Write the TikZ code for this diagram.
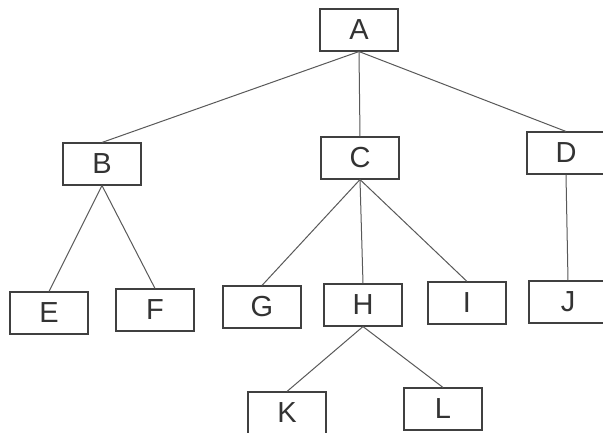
\documentclass[tikz,border=0pt]{standalone}
\usepackage{fontspec}
\setmainfont{Liberation Sans}
\begin{document}
\begin{tikzpicture}[x=1pt,y=-1pt,
  box/.style={draw=black!75,line width=1.1pt,fill=white,minimum width=78pt,minimum height=42pt,inner sep=0pt,
    font=\fontsize{29}{30}\selectfont,text=black!80},
  link/.style={draw=black!65,line width=1pt}]
\useasboundingbox (0,0) rectangle (603,432);
\clip (0,0) rectangle (603,432);
\fill[white] (0,0) rectangle (603,432);
% tree nodes
\node[box] (A) at (359,30) {A};
\node[box] (B) at (102,164) {B};
\node[box] (C) at (360,158) {C};
\node[box] (D) at (566,153) {D};
\node[box] (E) at (49,313) {E};
\node[box] (F) at (155,310) {F};
\node[box] (G) at (262,307) {G};
\node[box] (H) at (363,305) {H};
\node[box] (I) at (467,303) {I};
\node[box] (J) at (568,302) {J};
\node[box] (K) at (287,413) {K};
\node[box] (L) at (443,409) {L};
% edges, bottom centre of parent to top centre of child
\draw[link] (A.south) -- (B.north);
\draw[link] (A.south) -- (C.north);
\draw[link] (A.south) -- (D.north);
\draw[link] (B.south) -- (E.north);
\draw[link] (B.south) -- (F.north);
\draw[link] (C.south) -- (G.north);
\draw[link] (C.south) -- (H.north);
\draw[link] (C.south) -- (I.north);
\draw[link] (D.south) -- (J.north);
\draw[link] (H.south) -- (K.north);
\draw[link] (H.south) -- (L.north);
\end{tikzpicture}
\end{document}
